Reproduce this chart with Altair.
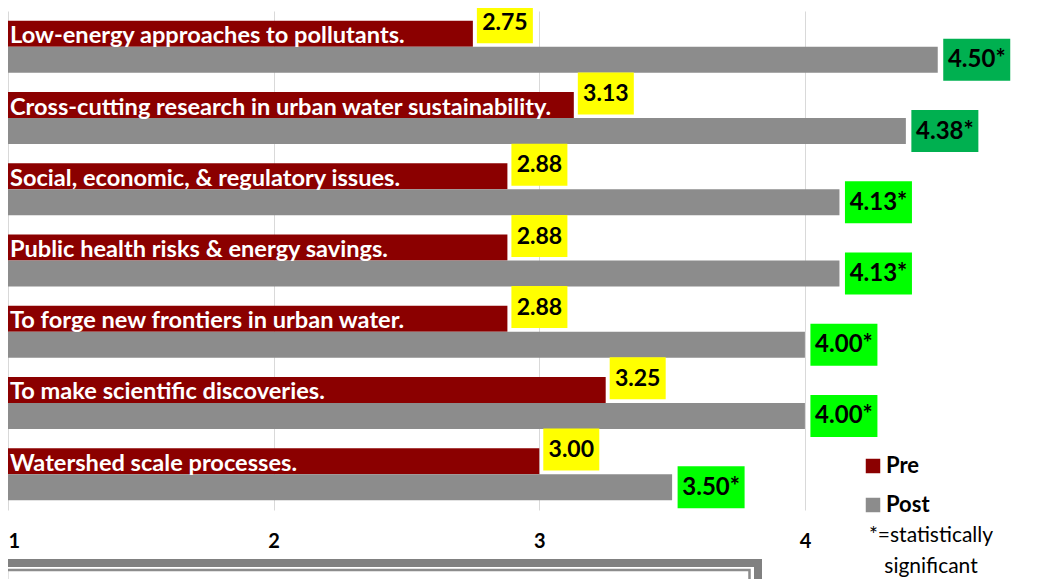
import altair as alt
import pandas as pd

# ---- data ----
categories = [
    "Low-energy approaches to pollutants.",
    "Cross-cutting research in urban water sustainability.",
    "Social, economic, & regulatory issues.",
    "Public health risks & energy savings.",
    "To forge new frontiers in urban water.",
    "To make scientific discoveries.",
    "Watershed scale processes.",
]
pre_values = [2.75, 3.13, 2.88, 2.88, 2.88, 3.25, 3.00]
post_values = [4.50, 4.38, 4.13, 4.13, 4.00, 4.00, 3.50]
post_significant = [True, True, True, True, True, True, True]
series = ["Pre", "Post"]
tick_values = [1, 2, 3, 4]
legend_note = ["*=statistically", "significant"]

wide = pd.DataFrame({"category": categories, "Pre": pre_values, "Post": post_values})
wide["pre_label"] = [f"{v:.2f}" for v in pre_values]
wide["post_label"] = [f"{v:.2f}" + ("*" if s else "") for v, s in zip(post_values, post_significant)]
long = wide.melt(id_vars=["category"], value_vars=series, var_name="series", value_name="value")

FONT = "Lato"
PRE_BOX = "M-1,-0.75L1,-0.75L1,0.75L-1,0.75Z"
POST_BOX = "M-1,-0.627L1,-0.627L1,0.627L-1,0.627Z"

x_scale = alt.Scale(domain=[1, 4.9], nice=False, zero=False)
y_enc = alt.Y("category:N", sort=categories, axis=None,
              scale=alt.Scale(paddingInner=0.27, paddingOuter=0.138))

bars = alt.Chart(long).mark_bar().encode(
    x=alt.X("value:Q", scale=x_scale, title=None,
            axis=alt.Axis(values=tick_values, format="d", domain=False, ticks=False,
                          grid=True, gridColor="#d9d9d9", gridWidth=1,
                          labelFont=FONT, labelFontWeight="bold", labelFontSize=20,
                          labelColor="black", labelPadding=21, labelFlush=True)),
    x2=alt.datum(1),
    y=y_enc,
    yOffset=alt.YOffset("series:N", sort=series,
                        scale=alt.Scale(paddingInner=0, paddingOuter=0)),
    color=alt.Color("series:N", sort=series,
                    scale=alt.Scale(domain=series, range=["#8B0000", "#8C8C8C"]),
                    legend=alt.Legend(orient="none", legendX=854, legendY=444,
                                      title=None,
                                      labelFont=FONT, labelFontWeight="bold",
                                      labelFontSize=22, labelColor="black",
                                      labelOffset=2, symbolType="square",
                                      symbolSize=210, symbolStrokeWidth=0,
                                      rowPadding=17, padding=0)),
)

cat_labels = alt.Chart(wide).mark_text(
    align="left", baseline="alphabetic", xOffset=2, yOffset=-3.5,
    font=FONT, fontWeight="bold", fontSize=23.6, color="white",
).encode(x=alt.datum(1), y=y_enc, text="category:N")

pre_boxes = alt.Chart(wide).mark_point(
    shape=PRE_BOX, size=56 * 56, filled=True, opacity=1, strokeWidth=0,
    color="#FFFF00", xOffset=32, yOffset=-24.6,
).encode(x="Pre:Q", y=y_enc)

pre_text = alt.Chart(wide).mark_text(
    align="center", baseline="middle", xOffset=32, yOffset=-24,
    font=FONT, fontWeight="bold", fontSize=23, color="black",
).encode(x="Pre:Q", y=y_enc, text="pre_label:N")

post_boxes = alt.Chart(wide).mark_point(
    shape=POST_BOX, size=67 * 67, filled=True, opacity=1, strokeWidth=0,
    xOffset=39, yOffset=13,
).encode(
    x="Post:Q", y=y_enc,
    color=alt.condition("datum.Post >= 4.3", alt.value("#00B050"), alt.value("#00FF00")),
)

post_text = alt.Chart(wide).mark_text(
    align="center", baseline="middle", xOffset=39, yOffset=13.5,
    font=FONT, fontWeight="bold", fontSize=24, color="black",
).encode(x="Post:Q", y=y_enc, text="post_label:N")

# note under the legend
note = alt.Chart(pd.DataFrame({"k": [0]})).mark_text(
    text=legend_note, lineHeight=31, align="center", baseline="alphabetic",
    font=FONT, fontSize=21, color="black",
).encode(x=alt.value(923), y=alt.value(530.5))

# decorative framed box cut off at the bottom of the reference picture
frame_src = alt.Chart(pd.DataFrame({"k": [0]}))
frame_outer = frame_src.mark_rect(fill=None, stroke="#808080", strokeWidth=8).encode(
    x=alt.value(-9), x2=alt.value(750), y=alt.value(552), y2=alt.value(620))
frame_inner = frame_src.mark_rect(fill=None, stroke="#8C8C8C", strokeWidth=2.5).encode(
    x=alt.value(-1), x2=alt.value(741.5), y=alt.value(559), y2=alt.value(620))

chart = alt.layer(
    bars, cat_labels, pre_boxes, pre_text, post_boxes, post_text, note,
    frame_outer, frame_inner
).properties(
    width=1036, height=499,
    autosize=alt.AutoSizeParams(type="none"),
    padding={"left": 0, "top": 3, "right": 0, "bottom": 69},
    background="white",
).configure_view(stroke=None)

chart.save("out.html", embed_options={"renderer": "svg", "actions": False})
